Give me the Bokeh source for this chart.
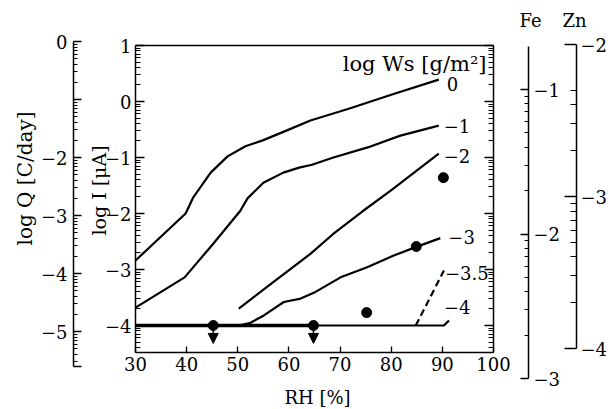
import math
from bokeh.plotting import figure
from bokeh.models import Range1d, LinearAxis, FixedTicker, ColumnDataSource, Label, Arrow, NormalHead
from bokeh.core.properties import value
from bokeh.embed import file_html
from bokeh.resources import INLINE

# ---------------- data ----------------
# curves: log I [uA] versus RH [%], one per log Ws [g/m2]
rh_w0 = [30, 39.8, 41.3, 44.7, 48.0, 51.5, 55.0, 59.5, 64.2, 72.0, 80.0, 89.3]
logI_w0 = [-2.84, -2.00, -1.71, -1.27, -0.98, -0.80, -0.69, -0.52, -0.34, -0.12, 0.12, 0.39]

rh_w1 = [30, 39.6, 45.2, 50.5, 51.9, 55.0, 58.9, 62.0, 64.5, 68.7, 75.4, 81.8, 89.3]
logI_w1 = [-3.68, -3.14, -2.54, -1.95, -1.73, -1.45, -1.27, -1.18, -1.13, -1.00, -0.82, -0.61, -0.43]

rh_w2 = [50.2, 57.0, 64.2, 68.6, 74.4, 79.9, 89.3]
logI_w2 = [-3.70, -3.22, -2.72, -2.37, -1.96, -1.59, -0.93]

rh_w3 = [50.2, 52.5, 55.1, 59.0, 62.3, 65.2, 70.1, 75.3, 80.5, 84.8, 89.6]
logI_w3 = [-4.00, -3.95, -3.82, -3.58, -3.52, -3.40, -3.14, -2.96, -2.75, -2.60, -2.44]

rh_w35 = [84.8, 90.3]
logI_w35 = [-4.00, -3.02]

rh_w4 = [30, 90.3, 91.3]
logI_w4 = [-4.00, -4.00, -3.91]

limit_rh = [30, 65]
limit_logI = [-4.00, -4.00]

curve_labels = ["0", "\u22121", "\u22122", "\u22123", "\u22123.5", "\u22124"]

# measured points
pt_rh = [75.2, 84.9, 90.2]
pt_logI = [-3.77, -2.59, -1.36]
# upper-limit points (below detection)
ul_rh = [45.2, 64.8]
ul_logI = [-4.00, -4.00]

# ticks
rh_ticks = [30, 40, 50, 60, 70, 80, 90, 100]
logI_ticks = [-4, -3, -2, -1, 0, 1]
logI_labels = ["\u22124", "\u22123", "\u22122", "\u22121", "0", "1"]
logQ_ticks = [-5.6, -5, -4, -3, -2, -1, 0]
logQ_labels = ["", "\u22125", "\u22124", "\u22123", "\u22122", "", "0"]
fe_ticks = [-3, -2, -1]
fe_labels = ["\u22123", "\u22122", "\u22121"]
zn_ticks = [-4, -3, -2]
zn_labels = ["\u22124", "\u22123", "\u22122"]

# ---------------- layout calibration (page pixels) ----------------
FONT = "DejaVu Serif"
W, H = 614, 408
FL, FR = 135, 493          # main box left/right edge
X0, X1 = 30, 100
LOGI_TOP, LOGI_BOT = 1.0, -4.48
SX = (FR - FL) / (X1 - X0)


def rh_at(px):
    return X0 + (px - FL) / SX


def logI_at(py):
    return 1 - (py - 45) / 56.0


def yr(v0, y0, s):
    return Range1d(v0 - (H - y0) / s, v0 + y0 / s)


def log_minor(lo, hi, skip=None):
    out = []
    for n in range(math.floor(lo) - 1, math.ceil(hi) + 1):
        for k in range(2, 10):
            v = n + math.log10(k)
            if lo < v < hi and not (skip and skip[0] < v < skip[1]):
                out.append(v)
    return out


p = figure(width=W, height=H, output_backend="svg", toolbar_location=None,
           x_axis_location=None, y_axis_location=None,
           x_range=Range1d(rh_at(0), rh_at(W)), y_range=yr(1, 45, 56),
           min_border_left=0, min_border_right=0, min_border_top=0, min_border_bottom=0)
p.extra_y_ranges = {"q": yr(0, 41, 58), "fe": yr(-1, 89, 144.5), "zn": yr(-2, 44, 152)}
p.outline_line_color = None
p.background_fill_color = "white"
p.border_fill_color = "white"
for g in p.grid:
    g.visible = False


def make_axis(loc, bounds, ticks, labels, minor, tin, min_in, standoff, rname="default", size="18px"):
    return LinearAxis(fixed_location=loc, bounds=bounds, y_range_name=rname,
                      ticker=FixedTicker(ticks=ticks, minor_ticks=minor),
                      major_label_overrides={t: l for t, l in zip(ticks, labels)},
                      major_tick_in=tin, major_tick_out=0, minor_tick_in=min_in, minor_tick_out=0,
                      major_label_standoff=standoff, axis_line_width=1.5, axis_line_color="black",
                      major_tick_line_width=1.3, minor_tick_line_width=1.0,
                      major_label_text_font=FONT, major_label_text_font_size=size,
                      major_label_text_color="black")


# main box: left (log I), right (mirror), top, bottom (RH)
ax_I = make_axis(X0, (LOGI_BOT, LOGI_TOP), logI_ticks, logI_labels,
                 log_minor(LOGI_BOT, LOGI_TOP), 9, 5, 4)
p.add_layout(ax_I, "left")
ax_Ir = make_axis(X1, (LOGI_BOT, LOGI_TOP), logI_ticks, [""] * len(logI_ticks),
                  log_minor(LOGI_BOT, LOGI_TOP), 9, 5, 4)
p.add_layout(ax_Ir, "right")

ax_top = LinearAxis(fixed_location=LOGI_TOP, bounds=(X0, X1), ticker=FixedTicker(ticks=[]),
                    axis_line_width=1.5, major_tick_in=0, major_tick_out=0,
                    minor_tick_in=0, minor_tick_out=0)
p.add_layout(ax_top, "above")

ax_x = LinearAxis(fixed_location=LOGI_BOT, bounds=(X0, X1), ticker=FixedTicker(ticks=rh_ticks),
                  major_tick_in=6, major_tick_out=0, minor_tick_in=0, minor_tick_out=0,
                  major_label_standoff=5, axis_line_width=1.5, major_tick_line_width=1.3,
                  major_label_text_font=FONT, major_label_text_font_size="18px",
                  major_label_text_color="black")
p.add_layout(ax_x, "below")

# log Q axis (left, outside)
ax_Q = make_axis(rh_at(73), (-5.6, 0), logQ_ticks, logQ_labels,
                 log_minor(-5.6, 0), 8, 4, 6, rname="q")
p.add_layout(ax_Q, "left")

# Fe and Zn axes (right, outside)
ax_fe = make_axis(rh_at(528), (-3, -0.7), fe_ticks, fe_labels,
                  log_minor(-3, -0.72), 8, 4, 5, rname="fe")
p.add_layout(ax_fe, "right")
ax_zn = make_axis(rh_at(576), (-4, -2), zn_ticks, zn_labels,
                  log_minor(-4, -2, skip=(-2.3, -2.0)), 12, 6, 4, rname="zn")
p.add_layout(ax_zn, "right")

# ---------------- curves ----------------
for xs, ys in [(rh_w0, logI_w0), (rh_w1, logI_w1), (rh_w2, logI_w2), (rh_w3, logI_w3), (rh_w4, logI_w4)]:
    p.line(xs, ys, line_width=2.2, color="black", line_join="round")
p.line(rh_w35, logI_w35, line_width=2.2, color="black", line_dash="7 4")
p.line(limit_rh, limit_logI, line_width=3.5, color="black")

# curve-end labels
series = [(rh_w0, logI_w0), (rh_w1, logI_w1), (rh_w2, logI_w2), (rh_w3, logI_w3),
          (rh_w35, logI_w35), (rh_w4, logI_w4)]
lab_dx = [8, 5, 5, 8, 1, -5]
lab_dy = [4, 0, 2, -1, 2, -13]
p.text(x=[s[0][-1] for s in series], y=[s[1][-1] for s in series], text=curve_labels,
       x_offset=lab_dx, y_offset=lab_dy, text_font=value(FONT), text_font_size="18px",
       text_align="left", text_baseline="middle", text_color="black")

# points and upper-limit arrows
ARROW_LEN = 0.32
ul_src = ColumnDataSource(dict(x=ul_rh, y=ul_logI, y_end=[v - ARROW_LEN for v in ul_logI]))
p.add_layout(Arrow(end=NormalHead(size=10, fill_color="black", line_color="black"),
                   x_start="x", y_start="y", x_end="x", y_end="y_end", source=ul_src,
                   line_width=1.5, line_color="black"))
p.scatter(pt_rh, pt_logI, size=10, color="black")
p.scatter(ul_rh, ul_logI, size=10, color="black")

# ---------------- texts ----------------
p.add_layout(Label(x=rh_at(486), y=logI_at(63), text="log Ws [g/m\u00b2]", text_align="right",
                   text_baseline="middle", text_font=FONT, text_font_size="21px", text_color="black"))
p.add_layout(Label(x=rh_at(317), y=logI_at(397), text="RH [%]", text_align="center",
                   text_baseline="middle", text_font=FONT, text_font_size="18px", text_color="black"))
p.add_layout(Label(x=rh_at(98), y=logI_at(190), text="log I [\u03bcA]", angle=math.pi / 2,
                   text_align="center", text_baseline="middle", text_font=FONT,
                   text_font_size="19px", text_color="black"))
p.add_layout(Label(x=rh_at(24), y=logI_at(178), text="log Q [C/day]", angle=math.pi / 2,
                   text_align="center", text_baseline="middle", text_font=FONT,
                   text_font_size="20px", text_color="black"))
p.add_layout(Label(x=rh_at(530), y=logI_at(20), text="Fe", text_align="center",
                   text_baseline="middle", text_font=FONT, text_font_size="18px", text_color="black"))
p.add_layout(Label(x=rh_at(574), y=logI_at(20), text="Zn", text_align="center",
                   text_baseline="middle", text_font=FONT, text_font_size="18px", text_color="black"))

open("out.html", "w").write(file_html(p, INLINE))
